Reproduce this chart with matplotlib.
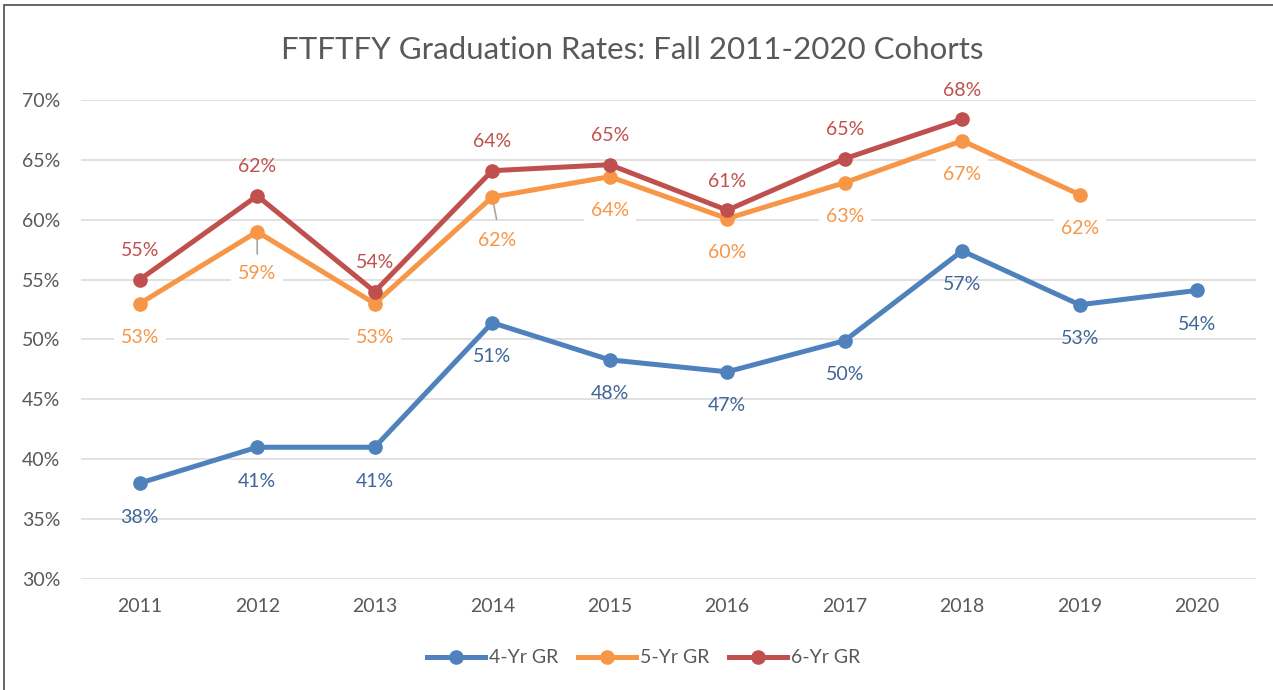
import matplotlib
matplotlib.use("Agg")
import matplotlib.pyplot as plt
from matplotlib.patches import Rectangle
from matplotlib.ticker import FuncFormatter

plt.rcParams['font.family'] = ['Lato', 'DejaVu Sans']

years = ['2011', '2012', '2013', '2014', '2015', '2016', '2017', '2018', '2019', '2020']
gr4 = [38.0, 41.0, 41.0, 51.4, 48.3, 47.3, 49.9, 57.4, 52.9, 54.1]
gr5 = [53.0, 59.0, 53.0, 61.9, 63.6, 60.1, 63.1, 66.6, 62.1]
gr6 = [55.0, 62.0, 54.0, 64.1, 64.6, 60.8, 65.1, 68.4]
lab4 = ['38%', '41%', '41%', '51%', '48%', '47%', '50%', '57%', '53%', '54%']
lab5 = ['53%', '59%', '53%', '62%', '64%', '60%', '63%', '67%', '62%']
lab6 = ['55%', '62%', '54%', '64%', '65%', '61%', '65%', '68%']

blue, orange, red = '#4F81BD', '#F79646', '#C0504D'
grey = '#595959'
fs = 14

fig = plt.figure(figsize=(12.73, 6.9), dpi=100)
ax = fig.add_axes([0.0636, 0.161, 0.923, 0.694])

x4 = list(range(len(gr4)))
x5 = list(range(len(gr5)))
x6 = list(range(len(gr6)))

ax.plot(x4, gr4, color=blue, lw=3.6, marker='o', ms=9.5, label='4-Yr GR', zorder=3)
ax.plot(x5, gr5, color=orange, lw=3.6, marker='o', ms=9.5, label='5-Yr GR', zorder=3)
ax.plot(x6, gr6, color=red, lw=3.6, marker='o', ms=9.5, label='6-Yr GR', zorder=3)

# data labels (offsets in points)
for x, y, t in zip(x4, gr4, lab4):
    ax.annotate(t, (x, y), xytext=(0, -24.5), textcoords='offset points',
                ha='center', va='center', fontsize=fs, color='#3F6597', zorder=4)

off5 = [(0, -24.5)] * len(gr5)
off5[1] = (0, -30)
off5[3] = (3.5, -31)
for i, (x, y, t) in enumerate(zip(x5, gr5, lab5)):
    dx, dy = off5[i]
    ax.annotate(t, (x, y), xytext=(dx, dy), textcoords='offset points',
                ha='center', va='center', fontsize=fs, color=orange, zorder=4,
                bbox=dict(boxstyle='square,pad=0.35', fc='white', ec='none'))
    if i in (1, 3):
        ax.annotate('', (x, y), xytext=(dx * 0.9, -16), textcoords='offset points',
                    arrowprops=dict(arrowstyle='-', color='#A6A6A6', lw=1.2,
                                    shrinkA=0, shrinkB=4), zorder=2.5)

for x, y, t in zip(x6, gr6, lab6):
    ax.annotate(t, (x, y), xytext=(0, 21), textcoords='offset points',
                ha='center', va='center', fontsize=fs, color=red, zorder=4)

ax.set_xlim(-0.5, len(years) - 0.5)
ax.set_ylim(30, 70)
ax.set_yticks(range(30, 71, 5))
ax.yaxis.set_major_formatter(FuncFormatter(lambda v, p: f'{v:.0f}%'))
ax.set_xticks(range(len(years)))
ax.set_xticklabels(years)
ax.tick_params(axis='both', length=0, labelsize=fs, colors=grey)
ax.tick_params(axis='y', pad=15)
ax.tick_params(axis='x', pad=14)
ax.grid(axis='y', color='#D9D9D9', lw=1.1)
ax.set_axisbelow(True)
for s in ax.spines.values():
    s.set_visible(False)

fig.text(0.4965, 0.927, 'FTFTFY Graduation Rates: Fall 2011-2020 Cohorts',
         ha='center', va='center', fontsize=22.5, color=grey)

leg = ax.legend(loc='center', bbox_to_anchor=(0.479, -0.165), ncol=3, frameon=False,
                fontsize=fs, handlelength=3.0, handletextpad=0.2, columnspacing=1.0)
for t in leg.get_texts():
    t.set_color(grey)

fig.patches.append(Rectangle((4 / 1273, -0.05), 1.2, 1 - 5 / 690 + 0.05,
                             transform=fig.transFigure, fill=False,
                             ec='#595959', lw=1.3))

fig.savefig('out.png', dpi=100)
